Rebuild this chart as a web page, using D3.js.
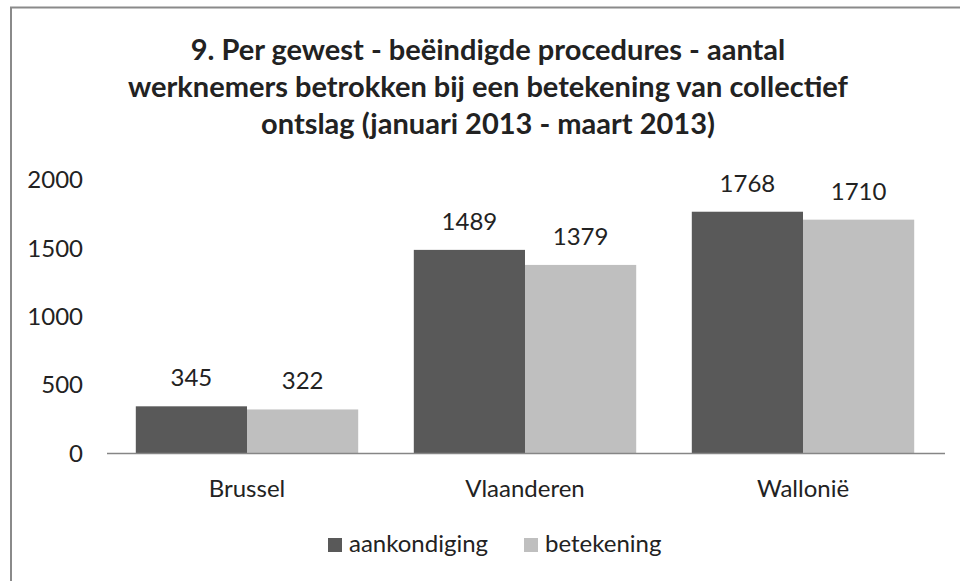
<!DOCTYPE html>
<html>
<head>
<meta charset="utf-8">
<script src="https://cdn.jsdelivr.net/npm/d3@7"></script>
<style>
  body { margin: 0; background: #fff; }
  text { font-family: Lato, "Open Sans", sans-serif; fill: #222; }
</style>
</head>
<body>
<svg id="chart"></svg>
<script>
var width = 960;
var height = 581;

var regions = ["Brussel", "Vlaanderen", "Wallonië"];
var seriesNames = ["aankondiging", "betekening"];
var aankondiging = [345, 1489, 1768];
var betekening = [322, 1379, 1710];
var yTicks = [0, 500, 1000, 1500, 2000];
var titleLines = [
    "9. Per gewest - beëindigde procedures - aantal",
    "werknemers betrokken bij een betekening van collectief",
    "ontslag (januari 2013 - maart 2013)"
];

var colours = {"aankondiging": "#595959", "betekening": "#bfbfbf"};
var fontSize = 24;

var svg = d3.select("#chart").attr("width", width).attr("height", height);

// frame (only left and top visible in reference)
svg.append("rect")
    .attr("x", 11).attr("y", 7.5)
    .attr("width", width + 10).attr("height", height + 10)
    .attr("fill", "none")
    .attr("stroke", "#8a8a8a")
    .attr("stroke-width", 2);

// title
svg.append("g").selectAll("text").data(titleLines).enter().append("text")
    .attr("x", 488)
    .attr("y", function(d, i) {return 60 + i * 37})
    .attr("text-anchor", "middle")
    .attr("font-weight", "bold")
    .attr("font-size", 29)
    .text(function(d) {return d});

var scaleX = d3.scaleBand().domain(regions).range([108, 942]).paddingInner(0.2).paddingOuter(0.1);
var scaleY = d3.scaleLinear().domain([0, 2000]).range([453.5, 180]);
var scaleSeries = d3.scaleBand().domain(seriesNames).range([0, scaleX.bandwidth()]);

var rows = regions.map(function(r, i) {
    return {region: r, values: [
        {name: "aankondiging", value: aankondiging[i]},
        {name: "betekening", value: betekening[i]}
    ]};
});

var groups = svg.append("g").selectAll("g").data(rows).enter().append("g")
    .attr("transform", function(d) {return "translate(" + scaleX(d.region) + ",0)"});

groups.selectAll("rect").data(function(d) {return d.values}).enter().append("rect")
    .attr("x", function(d) {return scaleSeries(d.name)})
    .attr("y", function(d) {return scaleY(d.value)})
    .attr("width", scaleSeries.bandwidth())
    .attr("height", function(d) {return scaleY(0) - scaleY(d.value)})
    .attr("fill", function(d) {return colours[d.name]});

groups.selectAll("text").data(function(d) {return d.values}).enter().append("text")
    .attr("x", function(d) {return scaleSeries(d.name) + scaleSeries.bandwidth() / 2})
    .attr("y", function(d) {return scaleY(d.value) - 20})
    .attr("text-anchor", "middle")
    .attr("font-size", fontSize)
    .text(function(d) {return d.value});

// y axis: labels only
var axisY = svg.append("g")
    .attr("transform", "translate(83,0)")
    .call(d3.axisLeft(scaleY).tickValues(yTicks).tickFormat(d3.format("d")).tickSize(0).tickPadding(0));
axisY.select(".domain").remove();
axisY.selectAll("text").attr("font-size", fontSize).attr("font-family", null).attr("fill", null);

// x axis
var axisX = svg.append("g")
    .attr("transform", "translate(0," + scaleY(0) + ")")
    .call(d3.axisBottom(scaleX).tickSize(0).tickPadding(0));
axisX.select(".domain").attr("stroke", "#868686").attr("stroke-width", 1.5)
    .attr("d", "M107,0H945");
axisX.selectAll("text")
    .attr("font-size", fontSize).attr("font-family", null).attr("fill", null)
    .attr("dy", null).attr("y", 43);

// legend
var legend = svg.append("g").selectAll("g").data(seriesNames).enter().append("g")
    .attr("transform", function(d, i) {return "translate(" + [328, 524][i] + ",538)"});
legend.append("rect")
    .attr("width", 14).attr("height", 14)
    .attr("fill", function(d) {return colours[d]});
legend.append("text")
    .attr("x", 21).attr("y", 14)
    .attr("font-size", fontSize)
    .text(function(d) {return d});
</script>
</body>
</html>
